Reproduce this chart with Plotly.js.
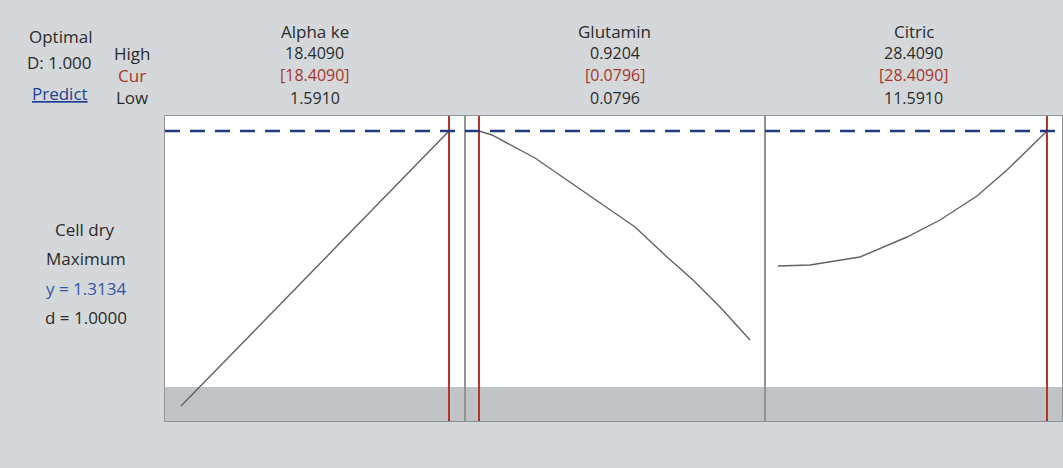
<!DOCTYPE html>
<html>
<head>
<meta charset="utf-8">
<script src="https://cdn.plot.ly/plotly-3.0.1.min.js"></script>
<style>html,body{margin:0;padding:0;background:#d4d8da;}#chart{width:1063px;height:468px;}</style>
</head>
<body>
<div id="chart"></div>
<script>
// ---- data ----
const factorNames = ["Alpha ke", "Glutamin", "Citric"];
const highVals = ["18.4090", "0.9204", "28.4090"];
const curVals = ["[18.4090]", "[0.0796]", "[28.4090]"];
const lowVals = ["1.5910", "0.0796", "11.5910"];
const factorLow = [1.591, 0.0796, 11.591];
const factorHigh = [18.409, 0.9204, 28.409];
const factorCur = [18.409, 0.0796, 28.409];

const alphaX = [1.591, 4.0, 6.5, 9.0, 11.5, 14.0, 16.5, 18.409];
const alphaY = [0.213, 0.369, 0.533, 0.697, 0.861, 1.025, 1.189, 1.3134];
const glutX = [0.0796, 0.1199, 0.2534, 0.3837, 0.4768, 0.5637, 0.6630, 0.7437, 0.8274, 0.9204];
const glutY = [1.3134, 1.2974, 1.2054, 1.0894, 1.0094, 0.9294, 0.8094, 0.7174, 0.6094, 0.4774];
const citX = [11.591, 13.592, 16.718, 19.656, 21.719, 24.032, 25.908, 28.409];
const citY = [0.7734, 0.7774, 0.8094, 0.8894, 0.9574, 1.0534, 1.1574, 1.3134];

const responseName = "Cell dry";
const goal = "Maximum";
const yOpt = "y = 1.3134";
const dOpt = "d = 1.0000";
const yTarget = 1.3134;
const bandTop = 0.2894;

// ---- layout ----
const W = 1063, H = 468;
const yRange = [0.1534, 1.3734];
const xRanges = [[0.587, 19.413], [0.0362, 0.9669], [10.778, 29.347]];
const xDomains = [[165/W, 465/W], [465/W, 765/W], [765/W, 1062/W]];
const yDomain = [1 - 421/H, 1 - 116/H];
const font = "'Open Sans', Lato, sans-serif";
const dark = "#2b2b2b";

const series = [[alphaX, alphaY], [glutX, glutY], [citX, citY]];
const traces = series.map((s, i) => ({
  type: "scatter", mode: "lines", x: s[0], y: s[1],
  xaxis: i === 0 ? "x" : "x" + (i + 1), yaxis: i === 0 ? "y" : "y" + (i + 1),
  line: {color: "#5f6366", width: 1.4}, hoverinfo: "skip", showlegend: false
}));

const layout = {
  width: W, height: H,
  margin: {l: 0, r: 0, t: 0, b: 0},
  paper_bgcolor: "#d4d8da", plot_bgcolor: "#ffffff",
  showlegend: false,
  shapes: [], annotations: []
};
for (let i = 0; i < 3; i++) {
  const sx = i === 0 ? "" : String(i + 1);
  layout["xaxis" + sx] = {domain: xDomains[i], range: xRanges[i], anchor: "y" + sx,
    showgrid: false, zeroline: false, showticklabels: false, ticks: "",
    showline: true, mirror: true, linecolor: "#8f9497", linewidth: 1, fixedrange: true};
  layout["yaxis" + sx] = {domain: yDomain, range: yRange, anchor: "x" + sx,
    showgrid: false, zeroline: false, showticklabels: false, ticks: "",
    showline: true, mirror: true, linecolor: "#8f9497", linewidth: 1, fixedrange: true};
  // grey band
  layout.shapes.push({type: "rect", xref: "x" + sx + " domain", yref: "y" + sx,
    x0: 0, x1: 1, y0: yRange[0], y1: bandTop, fillcolor: "#c0c4c6", line: {width: 0}, layer: "below"});
  // red current-setting line
  layout.shapes.push({type: "line", xref: "x" + sx, yref: "y" + sx + " domain",
    x0: factorCur[i], x1: factorCur[i], y0: 0, y1: 1, line: {color: "#b3342b", width: 2}});
  // headers
  const cx = (xDomains[i][0] + xDomains[i][1]) / 2;
  const rows = [[factorNames[i], 32, dark, 17], [highVals[i], 53, dark, 16], [curVals[i], 75, "#a8352c", 16], [lowVals[i], 98, dark, 16]];
  rows.forEach(r => layout.annotations.push({xref: "paper", yref: "paper", x: cx, y: 1 - r[1]/H,
    xanchor: "center", yanchor: "middle", showarrow: false, text: r[0], font: {family: font, size: r[3], color: r[2]}}));
}
// dashed target line across all panels
layout.shapes.push({type: "line", xref: "paper", yref: "y", x0: 165/W, x1: 1062/W, y0: yTarget, y1: yTarget,
  line: {color: "#1f3b7c", width: 2.5, dash: "15px,10px"}});

const leftTexts = [
  ["Optimal", 60, 37, dark], ["D: 1.000", 59, 63, dark], ["<u>Predict</u>", 60, 94, "#1f3f95"],
  ["High", 132, 53, dark], ["Cur", 132, 75, "#a8352c"], ["Low", 132, 97, dark],
  [responseName, 85, 229, dark], [goal, 86, 258, dark], [yOpt, 86, 288, "#3556a8"], [dOpt, 86, 317, dark]
];
leftTexts.forEach(t => layout.annotations.push({xref: "paper", yref: "paper", x: t[1]/W, y: 1 - t[2]/H,
  xanchor: "center", yanchor: "middle", showarrow: false, text: t[0], font: {family: font, size: 17, color: t[3]}}));

Plotly.newPlot("chart", traces, layout, {displayModeBar: false, staticPlot: true});
</script>
</body>
</html>
